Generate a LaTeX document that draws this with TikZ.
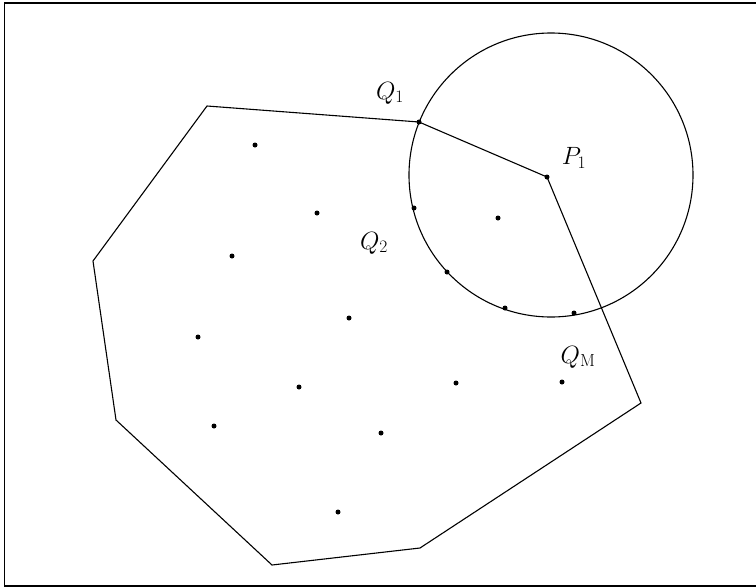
\documentclass[tikz,border=0pt]{standalone}
\usepackage{fix-cm}
\begin{document}
\begin{tikzpicture}[x=1pt,y=-1pt,
  edge/.style={line width=1.1pt,line join=miter},
  pt/.style={circle,fill=black,inner sep=0pt,minimum size=5pt},
  lbl/.style={font=\fontsize{25}{29}\selectfont,inner sep=0pt}]
\useasboundingbox (0,0) rectangle (756,587);
\draw[line width=1.2pt] (4.5,3) rectangle (756.5,586);
% polygon vertices
\coordinate (A) at (207,106);
\node[pt] (Q1) at (419,122) {};
\node[pt] (P1) at (547,177) {};
\coordinate (C) at (641,403);
\coordinate (D) at (420,548);
\coordinate (E) at (272,565);
\coordinate (F) at (116,420);
\coordinate (G) at (93,261);
\draw[edge] (A) -- (Q1.center) -- (P1.center) -- (C) -- (D) -- (E) -- (F) -- (G) -- cycle;
% circle
\coordinate (O) at (551,175);
\draw[edge] (O) circle[radius=142];
% points
\foreach \n/\x/\y in {a/255/145, b/317/213, c/232/256, d/349/318, e/198/337, f/299/387, g/214/426, h/381/433, i/338/512, j/456/383, k/562/382, l/498/218, m/414/208, n/447/272, o/505/308, p/574/313}
  \node[pt] (\n) at (\x,\y) {};
% labels
\node[lbl] (lQ1) at (390,93) {$Q_1$};
\node[lbl] (lP1) at (574,158) {$P_1$};
\node[lbl] (lQ2) at (374,243) {$Q_2$};
\node[lbl] (lQM) at (578,357) {$Q_{\mathrm{M}}$};
\end{tikzpicture}
\end{document}
